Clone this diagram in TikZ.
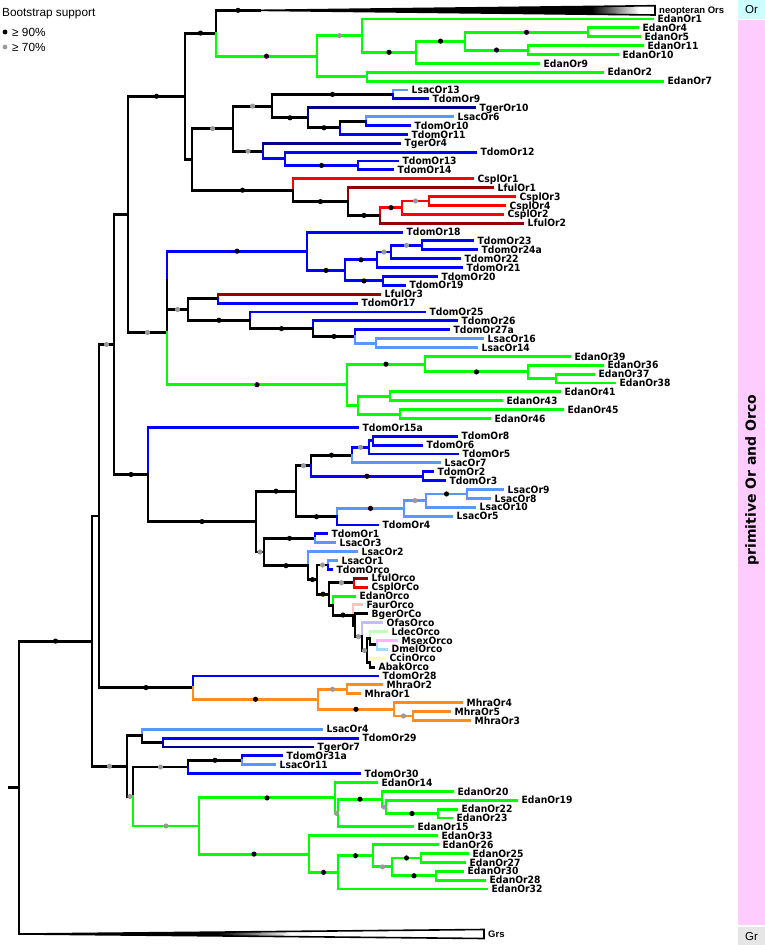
\documentclass[tikz,border=0pt]{standalone}
\usepackage{fontspec}
\setmainfont{DejaVu Sans}
\newfontfamily\labf{DejaVu Sans}[FakeStretch=0.92]
\newfontfamily\arialf{Liberation Sans}
\usetikzlibrary{calc}
\definecolor{cgreen}{RGB}{0,255,0}
\definecolor{cblue}{RGB}{0,0,255}
\definecolor{clblue}{RGB}{90,150,255}
\definecolor{cnavy}{RGB}{0,0,140}
\definecolor{cred}{RGB}{255,0,0}
\definecolor{cdred}{RGB}{150,0,0}
\definecolor{corange}{RGB}{255,140,30}
\definecolor{cgray}{RGB}{155,155,155}
\definecolor{cfaur}{RGB}{255,192,192}
\definecolor{cofas}{RGB}{190,190,255}
\definecolor{cldec}{RGB}{190,255,190}
\definecolor{cmsex}{RGB}{255,180,255}
\definecolor{cdmel}{RGB}{160,220,255}
\definecolor{cccin}{RGB}{255,255,170}
\definecolor{corbox}{RGB}{204,255,255}
\definecolor{cpink}{RGB}{255,204,255}
\definecolor{cgrbox}{RGB}{230,230,230}
\pgfdeclarehorizontalshading{neoshade}{100bp}{color(0bp)=(black); color(67bp)=(black); color(73bp)=(white); color(100bp)=(white)}
\pgfdeclarehorizontalshading{grsshade}{100bp}{color(0bp)=(black); color(46bp)=(black); color(54bp)=(white); color(100bp)=(white)}
\tikzset{
  br/.style={line width=2.9pt,line cap=rect},
  lbl/.style={anchor=base west,inner sep=0pt,xshift=4.5pt,yshift=-3.6pt,font=\labf\bfseries\fontsize{10}{10}\selectfont},
  clab/.style={anchor=base west,inner sep=0pt,xshift=4pt,yshift=-3.6pt,font=\arialf\bfseries\fontsize{9.5}{9.5}\selectfont},
  sdot/.style={circle,inner sep=0pt,minimum size=4.8pt},
}
\newcommand{\tleaf}[4]{\coordinate (#1) at (#2,#3); \node[lbl] (#1L) at (#1) {#4};}
\newcommand{\tedge}[3][black]{\foreach \ch in {#3}{\draw[br,#1] (#2) |- (\ch);}}
\newcommand{\tdk}[2]{\foreach \ch in {#2}{\fill[black] ($(#1|-\ch)!0.5!(\ch)$) circle (2.6pt);}}
\newcommand{\tdg}[2]{\foreach \ch in {#2}{\fill[cgray] ($(#1|-\ch)!0.5!(\ch)$) circle (2.6pt);}}
\begin{document}
\begin{tikzpicture}[x=1pt,y=-1pt]
\useasboundingbox (0,0) rectangle (765,945);
% side bar
\fill[corbox] (738,0) rectangle (765,18.5);
\fill[cpink] (738,19.5) rectangle (765,925);
\fill[cgrbox] (738,927) rectangle (765,945);
\node[font=\arialf\fontsize{11.5}{12}\selectfont,inner sep=0pt] (orlab) at (751.5,10) {Or};
\node[font=\arialf\fontsize{11.5}{12}\selectfont,inner sep=0pt] (grlab) at (751.5,936.5) {Gr};
\node[font=\bfseries\fontsize{14}{14}\selectfont,inner sep=0pt,rotate=90] (prim) at (752,480) {primitive Or and Orco};
% legend
\node[anchor=west,inner sep=0pt,font=\arialf\fontsize{11.8}{12}\selectfont] (legt) at (2,13.5) {Bootstrap support};
\node[sdot,fill=black] (legk) at (5,32) {};
\node[sdot,fill=cgray] (legg) at (5,47) {};
\node[anchor=west,inner sep=0pt,font=\arialf\fontsize{11.8}{12}\selectfont] (leg90) at (12,32.3) {≥ 90\%};
\node[anchor=west,inner sep=0pt,font=\arialf\fontsize{11.8}{12}\selectfont] (leg70) at (12,47.3) {≥ 70\%};
% internal nodes
\coordinate (root) at (9,787.55);
\coordinate (R) at (19,787.55);
\coordinate (grs) at (25,934);
\coordinate (A) at (92,641.1);
\coordinate (B) at (99,516.0);
\coordinate (C) at (127,766.2);
\coordinate (D) at (114,344.45);
\coordinate (E) at (128,214.4);
\coordinate (F) at (148,474.5);
\coordinate (G) at (185,96.25);
\coordinate (T) at (216,33.1);
\coordinate (neo) at (260,10.35);
\coordinate (U) at (317,56.2);
\coordinate (V) at (362,35.65);
\coordinate (W) at (416,52.3);
\coordinate (Y) at (465,41.2);
\coordinate (Z1) at (588,32.35);
\coordinate (Z2) at (528,50.05);
\coordinate (Q) at (367,76.7);
\coordinate (K) at (192,159.4);
\coordinate (L) at (233,128.6);
\coordinate (M1) at (272,106.1);
\coordinate (N13) at (393,94.45);
\coordinate (N) at (308,117.8);
\coordinate (O) at (340,127.75);
\coordinate (P) at (366,121.1);
\coordinate (R2) at (263,151.1);
\coordinate (S) at (285,158.8);
\coordinate (S2) at (358,165.45);
\coordinate (AA) at (293,190.2);
\coordinate (AB) at (348,201.6);
\coordinate (AC) at (380,215.4);
\coordinate (AD) at (402,207.65);
\coordinate (AE) at (429,201.0);
\coordinate (H) at (167,332.5);
\coordinate (X) at (167,280.35);
\coordinate (BA) at (307,251.2);
\coordinate (BC) at (345,270.4);
\coordinate (BD) at (377,259.8);
\coordinate (BF) at (391,252.0);
\coordinate (BG) at (422,245.35);
\coordinate (BE) at (383,280.9);
\coordinate (BB) at (188,309.5);
\coordinate (BH) at (218,298.65);
\coordinate (BI) at (250,320.3);
\coordinate (BJ) at (313,328.65);
\coordinate (BK) at (355,336.4);
\coordinate (BL) at (376,343.05);
\coordinate (CA) at (347,384.7);
\coordinate (CB) at (425,364.2);
\coordinate (CD) at (528,371.9);
\coordinate (CE) at (556,378.55);
\coordinate (CC) at (358,405.2);
\coordinate (CF) at (390,396.35);
\coordinate (CG) at (400,414.05);
\coordinate (DA) at (256,521.6);
\coordinate (DB) at (296,491.2);
\coordinate (DC) at (311,465.7);
\coordinate (DD) at (352,455.15);
\coordinate (DE) at (369,447.35);
\coordinate (DF) at (373,440.7);
\coordinate (DG) at (423,476.25);
\coordinate (DH) at (337,516.7);
\coordinate (DI) at (404,508.4);
\coordinate (DJ) at (426,500.6);
\coordinate (DK) at (467,493.95);
\coordinate (EA) at (264,552.0);
\coordinate (EB) at (315,538.35);
\coordinate (EC) at (308,565.65);
\coordinate (EE) at (317,579.6);
\coordinate (EF) at (328,565.0);
\coordinate (P9) at (329,594.2);
\coordinate (EH) at (354,582.75);
\coordinate (P8) at (333,605.6);
\coordinate (P7) at (353,615.05);
\coordinate (P6) at (355,625.2);
\coordinate (P5) at (362,636.6);
\coordinate (P4) at (367,650.45);
\coordinate (Q2) at (370,638.25);
\coordinate (Q1) at (377,644.9);
\coordinate (Q3) at (370,662.65);
\coordinate (M) at (193,687.6);
\coordinate (MA) at (318,699.3);
\coordinate (MB) at (347,689.25);
\coordinate (MC) at (394,709.3);
\coordinate (MD) at (413,715.95);
\coordinate (NA) at (142,735.9);
\coordinate (NB) at (163,742.55);
\coordinate (ND) at (133,796.5);
\coordinate (NE) at (188,767.0);
\coordinate (NF) at (242,760.3);
\coordinate (NG) at (199,826.0);
\coordinate (NH) at (335,797.9);
\coordinate (NI) at (338,813.25);
\coordinate (NJ) at (382,799.15);
\coordinate (NK) at (386,806.9);
\coordinate (NL) at (438,813.55);
\coordinate (NM) at (309,854.1);
\coordinate (NN) at (338,872.4);
\coordinate (NO) at (373,855.7);
\coordinate (NP) at (392,866.85);
\coordinate (NQ) at (421,857.95);
\coordinate (NR) at (436,875.75);
% leaves
\tleaf{EdanOr1}{653}{19.0}{EdanOr1}
\tleaf{EdanOr4}{638}{27.9}{EdanOr4}
\tleaf{EdanOr5}{640}{36.8}{EdanOr5}
\tleaf{EdanOr11}{643}{45.6}{EdanOr11}
\tleaf{EdanOr10}{618}{54.5}{EdanOr10}
\tleaf{EdanOr9}{539}{63.4}{EdanOr9}
\tleaf{EdanOr2}{603}{72.3}{EdanOr2}
\tleaf{EdanOr7}{663}{81.1}{EdanOr7}
\tleaf{LsacOr13}{407}{90.0}{LsacOr13}
\tleaf{TdomOr9}{428}{98.9}{TdomOr9}
\tleaf{TgerOr10}{475}{107.8}{TgerOr10}
\tleaf{LsacOr6}{453}{116.7}{LsacOr6}
\tleaf{TdomOr10}{410}{125.5}{TdomOr10}
\tleaf{TdomOr11}{407}{134.4}{TdomOr11}
\tleaf{TgerOr4}{400}{143.3}{TgerOr4}
\tleaf{TdomOr12}{476}{152.2}{TdomOr12}
\tleaf{TdomOr13}{398}{161.0}{TdomOr13}
\tleaf{TdomOr14}{393}{169.9}{TdomOr14}
\tleaf{CsplOr1}{473}{178.8}{CsplOr1}
\tleaf{LfulOr1}{493}{187.7}{LfulOr1}
\tleaf{CsplOr3}{515}{196.6}{CsplOr3}
\tleaf{CsplOr4}{505}{205.4}{CsplOr4}
\tleaf{CsplOr2}{503}{214.3}{CsplOr2}
\tleaf{LfulOr2}{523}{223.2}{LfulOr2}
\tleaf{TdomOr18}{402}{232.1}{TdomOr18}
\tleaf{TdomOr23}{473}{240.9}{TdomOr23}
\tleaf{TdomOr24a}{477}{249.8}{TdomOr24a}
\tleaf{TdomOr22}{460}{258.7}{TdomOr22}
\tleaf{TdomOr21}{462}{267.6}{TdomOr21}
\tleaf{TdomOr20}{437}{276.5}{TdomOr20}
\tleaf{TdomOr19}{405}{285.3}{TdomOr19}
\tleaf{LfulOr3}{380}{294.2}{LfulOr3}
\tleaf{TdomOr17}{357}{303.1}{TdomOr17}
\tleaf{TdomOr25}{425}{312.0}{TdomOr25}
\tleaf{TdomOr26}{457}{320.9}{TdomOr26}
\tleaf{TdomOr27a}{449}{329.7}{TdomOr27a}
\tleaf{LsacOr16}{483}{338.6}{LsacOr16}
\tleaf{LsacOr14}{477}{347.5}{LsacOr14}
\tleaf{EdanOr39}{570}{356.4}{EdanOr39}
\tleaf{EdanOr36}{603}{365.2}{EdanOr36}
\tleaf{EdanOr37}{594}{374.1}{EdanOr37}
\tleaf{EdanOr38}{615}{383.0}{EdanOr38}
\tleaf{EdanOr41}{560}{391.9}{EdanOr41}
\tleaf{EdanOr43}{502}{400.8}{EdanOr43}
\tleaf{EdanOr45}{563}{409.6}{EdanOr45}
\tleaf{EdanOr46}{490}{418.5}{EdanOr46}
\tleaf{TdomOr15a}{358}{427.4}{TdomOr15a}
\tleaf{TdomOr8}{457}{436.3}{TdomOr8}
\tleaf{TdomOr6}{422}{445.1}{TdomOr6}
\tleaf{TdomOr5}{458}{454.0}{TdomOr5}
\tleaf{LsacOr7}{440}{462.9}{LsacOr7}
\tleaf{TdomOr2}{433}{471.8}{TdomOr2}
\tleaf{TdomOr3}{445}{480.7}{TdomOr3}
\tleaf{LsacOr9}{503}{489.5}{LsacOr9}
\tleaf{LsacOr8}{490}{498.4}{LsacOr8}
\tleaf{LsacOr10}{475}{507.3}{LsacOr10}
\tleaf{LsacOr5}{452}{516.2}{LsacOr5}
\tleaf{TdomOr4}{378}{525.0}{TdomOr4}
\tleaf{TdomOr1}{327}{533.9}{TdomOr1}
\tleaf{LsacOr3}{335}{542.8}{LsacOr3}
\tleaf{LsacOr2}{357}{551.7}{LsacOr2}
\tleaf{LsacOr1}{337}{560.6}{LsacOr1}
\tleaf{TdomOrco}{332}{569.4}{TdomOrco}
\tleaf{LfulOrco}{367}{578.3}{LfulOrco}
\tleaf{CsplOrCo}{367}{587.2}{CsplOrCo}
\tleaf{EdanOrco}{355}{596.1}{EdanOrco}
\tleaf{FaurOrco}{362}{604.9}{FaurOrco}
\tleaf{BgerOrCo}{367}{613.8}{BgerOrCo}
\tleaf{OfasOrco}{382}{622.7}{OfasOrco}
\tleaf{LdecOrco}{387}{631.6}{LdecOrco}
\tleaf{MsexOrco}{397}{640.5}{MsexOrco}
\tleaf{DmelOrco}{387}{649.3}{DmelOrco}
\tleaf{CcinOrco}{385}{658.2}{CcinOrco}
\tleaf{AbakOrco}{374}{667.1}{AbakOrco}
\tleaf{TdomOr28}{378}{676.0}{TdomOr28}
\tleaf{MhraOr2}{382}{684.8}{MhraOr2}
\tleaf{MhraOr1}{360}{693.7}{MhraOr1}
\tleaf{MhraOr4}{462}{702.6}{MhraOr4}
\tleaf{MhraOr5}{450}{711.5}{MhraOr5}
\tleaf{MhraOr3}{470}{720.4}{MhraOr3}
\tleaf{LsacOr4}{322}{729.2}{LsacOr4}
\tleaf{TdomOr29}{358}{738.1}{TdomOr29}
\tleaf{TgerOr7}{313}{747.0}{TgerOr7}
\tleaf{TdomOr31a}{282}{755.9}{TdomOr31a}
\tleaf{LsacOr11}{275}{764.7}{LsacOr11}
\tleaf{TdomOr30}{360}{773.6}{TdomOr30}
\tleaf{EdanOr14}{377}{782.5}{EdanOr14}
\tleaf{EdanOr20}{453}{791.4}{EdanOr20}
\tleaf{EdanOr19}{517}{800.3}{EdanOr19}
\tleaf{EdanOr22}{457}{809.1}{EdanOr22}
\tleaf{EdanOr23}{452}{818.0}{EdanOr23}
\tleaf{EdanOr15}{413}{826.9}{EdanOr15}
\tleaf{EdanOr33}{437}{835.8}{EdanOr33}
\tleaf{EdanOr26}{438}{844.6}{EdanOr26}
\tleaf{EdanOr25}{468}{853.5}{EdanOr25}
\tleaf{EdanOr27}{465}{862.4}{EdanOr27}
\tleaf{EdanOr30}{463}{871.3}{EdanOr30}
\tleaf{EdanOr28}{485}{880.2}{EdanOr28}
\tleaf{EdanOr32}{487}{889.0}{EdanOr32}
% collapsed clades
\shadedraw[line width=1.6pt,shading=neoshade] (neo) -- (655,5.7) -- (655,15) -- cycle;
\node[clab] (neoL) at (655,10.35) {neopteran Ors};
\shadedraw[line width=1.6pt,shading=grsshade] (grs) -- (484,929.5) -- (484,938.5) -- cycle;
\node[clab] (grsL) at (484,934) {Grs};
% edges
\draw[br] (root) -- (R);
\tedge{R}{A,grs}
\tedge{A}{B,C}
\tedge{B}{D,M}
\tedge{D}{E,F}
\tedge{E}{G,H}
\tedge{G}{T,K}
\tedge{T}{neo}
\tedge[cgreen]{T}{U}
\tedge[cgreen]{U}{V,Q}
\tedge[cgreen]{V}{EdanOr1,W}
\tedge[cgreen]{W}{Y,EdanOr9}
\tedge[cgreen]{Y}{Z1,Z2}
\tedge[cgreen]{Z1}{EdanOr4,EdanOr5}
\tedge[cgreen]{Z2}{EdanOr11,EdanOr10}
\tedge[cgreen]{Q}{EdanOr2,EdanOr7}
\tedge{K}{L,AA}
\tedge{L}{M1}
\tedge{M1}{N13,N}
\tedge{N}{O}
\tedge{O}{P}
\tedge[clblue]{N13}{LsacOr13}
\tedge[cblue]{N13}{TdomOr9}
\tedge[cnavy]{N}{TgerOr10}
\tedge[cblue]{O}{TdomOr11}
\tedge[clblue]{P}{LsacOr6}
\tedge[cblue]{P}{TdomOr10}
\tedge{L}{R2}
\tedge[cnavy]{R2}{TgerOr4}
\tedge[cblue]{R2}{S}
\tedge[cblue]{S}{TdomOr12,S2}
\tedge[cblue]{S2}{TdomOr13,TdomOr14}
\tedge[cred]{AA}{CsplOr1}
\tedge{AA}{AB}
\tedge[cdred]{AB}{LfulOr1}
\tedge{AB}{AC}
\tedge[cred]{AC}{AD}
\tedge[cdred]{AC}{LfulOr2}
\tedge[cred]{AD}{AE,CsplOr2}
\tedge[cred]{AE}{CsplOr3,CsplOr4}
\tedge{H}{X}
\tedge[cblue]{X}{BA}
\tedge[cblue]{BA}{TdomOr18,BC}
\tedge[cblue]{BC}{BD,BE}
\tedge[cblue]{BD}{BF,TdomOr21}
\tedge[cblue]{BF}{BG,TdomOr22}
\tedge[cblue]{BG}{TdomOr23,TdomOr24a}
\tedge[cblue]{BE}{TdomOr20,TdomOr19}
\tedge{X}{BB}
\tedge{BB}{BH,BI}
\tedge[cdred]{BH}{LfulOr3}
\tedge[cblue]{BH}{TdomOr17}
\tedge[cblue]{BI}{TdomOr25}
\tedge{BI}{BJ}
\tedge[cblue]{BJ}{TdomOr26}
\tedge{BJ}{BK}
\tedge[cblue]{BK}{TdomOr27a}
\tedge[clblue]{BK}{BL}
\tedge[clblue]{BL}{LsacOr16,LsacOr14}
\tedge[cgreen]{H}{CA}
\tedge[cgreen]{CA}{CB,CC}
\tedge[cgreen]{CB}{EdanOr39,CD}
\tedge[cgreen]{CD}{EdanOr36,CE}
\tedge[cgreen]{CE}{EdanOr37,EdanOr38}
\tedge[cgreen]{CC}{CF,CG}
\tedge[cgreen]{CF}{EdanOr41,EdanOr43}
\tedge[cgreen]{CG}{EdanOr45,EdanOr46}
\tedge[cblue]{F}{TdomOr15a}
\tedge{F}{DA}
\tedge{DA}{DB,EA}
\tedge{DB}{DC,DH}
\tedge{DC}{DD}
\tedge[cblue]{DC}{DG}
\tedge[cblue]{DG}{TdomOr2,TdomOr3}
\tedge[cblue]{DD}{DE}
\tedge[clblue]{DD}{LsacOr7}
\tedge[cblue]{DE}{DF,TdomOr5}
\tedge[cblue]{DF}{TdomOr8,TdomOr6}
\tedge[clblue]{DH}{DI}
\tedge[cblue]{DH}{TdomOr4}
\tedge[clblue]{DI}{DJ,LsacOr5}
\tedge[clblue]{DJ}{DK,LsacOr10}
\tedge[clblue]{DK}{LsacOr9,LsacOr8}
\tedge{EA}{EB,EC}
\tedge[cblue]{EB}{TdomOr1}
\tedge[clblue]{EB}{LsacOr3}
\tedge[clblue]{EC}{LsacOr2}
\tedge{EC}{EE}
\tedge{EE}{EF,P9}
\tedge[clblue]{EF}{LsacOr1}
\tedge[cblue]{EF}{TdomOrco}
\tedge{P9}{EH,P8}
\tedge[cdred]{EH}{LfulOrco}
\tedge[cred]{EH}{CsplOrCo}
\tedge[cgreen]{P8}{EdanOrco}
\tedge{P8}{P7}
\tedge[cfaur]{P7}{FaurOrco}
\tedge{P7}{P6}
\tedge{P6}{BgerOrCo,P5}
\tedge[cofas]{P5}{OfasOrco}
\tedge{P5}{P4}
\tedge{P4}{Q2,Q3}
\tedge[cldec]{Q2}{LdecOrco}
\tedge{Q2}{Q1}
\tedge[cmsex]{Q1}{MsexOrco}
\tedge[cdmel]{Q1}{DmelOrco}
\tedge[cccin]{Q3}{CcinOrco}
\tedge{Q3}{AbakOrco}
\tedge[cblue]{M}{TdomOr28}
\tedge[corange]{M}{MA}
\tedge[corange]{MA}{MB,MC}
\tedge[corange]{MB}{MhraOr2,MhraOr1}
\tedge[corange]{MC}{MhraOr4,MD}
\tedge[corange]{MD}{MhraOr5,MhraOr3}
\tedge{C}{NA,ND}
\tedge[clblue]{NA}{LsacOr4}
\tedge{NA}{NB}
\tedge[cblue]{NB}{TdomOr29}
\tedge[cnavy]{NB}{TgerOr7}
\tedge{ND}{NE}
\tedge{NE}{NF}
\tedge[cblue]{NE}{TdomOr30}
\tedge[cblue]{NF}{TdomOr31a}
\tedge[clblue]{NF}{LsacOr11}
\tedge[cgreen]{ND}{NG}
\tedge[cgreen]{NG}{NH,NM}
\tedge[cgreen]{NH}{EdanOr14,NI}
\tedge[cgreen]{NI}{NJ,EdanOr15}
\tedge[cgreen]{NJ}{EdanOr20,NK}
\tedge[cgreen]{NK}{EdanOr19,NL}
\tedge[cgreen]{NL}{EdanOr22,EdanOr23}
\tedge[cgreen]{NM}{EdanOr33,NN}
\tedge[cgreen]{NN}{NO,EdanOr32}
\tedge[cgreen]{NO}{EdanOr26,NP}
\tedge[cgreen]{NP}{NQ,NR}
\tedge[cgreen]{NQ}{EdanOr25,EdanOr27}
\tedge[cgreen]{NR}{EdanOr30,EdanOr28}
% support dots
\tdk{R}{A}
\tdk{G}{T}
\tdk{T}{neo,U}
\tdk{E}{G}
\tdk{V}{W}
\tdk{W}{Y}
\tdk{Y}{Z1,Z2}
\tdk{M1}{N13,N}
\tdk{N}{O}
\tdk{S}{S2}
\tdk{K}{AA}
\tdk{AA}{AB}
\tdk{AB}{AC}
\tdk{AC}{AD}
\tdk{X}{BA}
\tdk{BA}{BC}
\tdk{BC}{BD,BE}
\tdk{BB}{BI}
\tdk{BI}{BJ}
\tdk{BJ}{BK}
\tdk{H}{CA}
\tdk{CA}{CB}
\tdk{CB}{CD}
\tdk{D}{F}
\tdk{F}{DA}
\tdk{DA}{DB}
\tdk{DC}{DD,DG}
\tdk{DB}{DH}
\tdk{DH}{DI}
\tdk{DJ}{DK}
\tdk{EA}{EB,EC}
\tdk{EC}{EE}
\tdk{EE}{P9}
\tdk{P8}{P7}
\tdk{B}{M}
\tdk{M}{MA}
\tdk{MA}{MC}
\tdk{NE}{NF}
\tdk{NG}{NH,NM}
\tdk{NI}{NJ}
\tdk{NK}{NL}
\tdk{NM}{NN}
\tdk{NN}{NO}
\tdk{NP}{NQ,NR}
\tdg{U}{V}
\tdg{K}{L}
\tdg{L}{M1,R2}
\tdg{AD}{AE}
\tdg{B}{D}
\tdg{E}{H}
\tdg{X}{BB}
\tdg{BD}{BF}
\tdg{BF}{BG}
\tdg{DB}{DC}
\tdg{DD}{DE}
\tdg{DI}{DJ}
\tdg{DA}{EA}
\tdg{EE}{EF}
\tdg{P9}{EH}
\tdg{P6}{P5}
\tdg{P5}{P4}
\tdg{MA}{MB}
\tdg{MC}{MD}
\tdg{A}{C}
\tdg{C}{ND}
\tdg{ND}{NE,NG}
\tdg{NH}{NI}
\tdg{NJ}{NK}
\tdg{NO}{NP}
\end{tikzpicture}
\end{document}
